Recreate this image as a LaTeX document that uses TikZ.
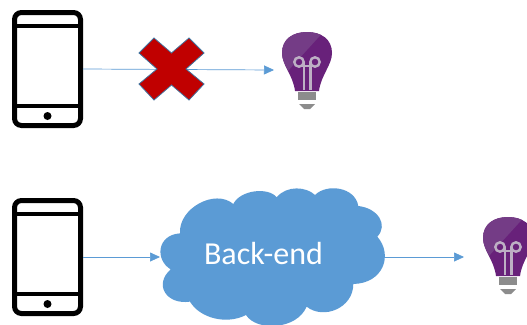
\documentclass[tikz,border=0pt]{standalone}
\usepackage{fontspec}
\setmainfont{Carlito}
\usetikzlibrary{arrows.meta}
\definecolor{lineblue}{HTML}{5B9BD5}
\definecolor{crossred}{HTML}{C00000}
\definecolor{crossedge}{HTML}{41719C}
\definecolor{bulbdark}{HTML}{68217A}
\definecolor{bulblight}{HTML}{743C86}
\definecolor{filament}{HTML}{BDB0C4}
\definecolor{basegrey}{HTML}{8C8C8C}
\newcommand{\bulboutline}{(12,38) .. controls (14,22) and (25,12) .. (25,0)
      .. controls (25,-14) and (14,-21) .. (0,-21)
      .. controls (-14,-21) and (-25,-14) .. (-25,0)
      .. controls (-25,12) and (-14,22) .. (-12,38) -- cycle}
\tikzset{
  x=1pt,y=-1pt,
  phonebody/.style={draw=black,line width=5pt,rounded corners=7pt,minimum width=66pt,minimum height=113pt,inner sep=0pt,fill=white},
  phoneline/.style={draw=black,line width=4pt},
  flow/.style={draw=lineblue,line width=0.7pt,-{Triangle[length=10pt,width=9pt,fill=lineblue]}},
  pics/phoneicon/.style={code={
    \draw[phoneline] (-33,-43.5) -- (33,-43.5);
    \draw[phoneline] (-33,36.5) -- (33,36.5);
    \fill[black] (0,47) circle (4);
  }},
  pics/bulbicon/.style={code={
    \fill[bulbdark] \bulboutline;
    \begin{scope}
      \clip \bulboutline;
      \fill[bulblight] (-30,-25) -- (20,-25) -- (-30,30) -- cycle;
    \end{scope}
    \draw[filament,line width=2.4pt] (-3.3,37) -- (-3.3,9);
    \draw[filament,line width=2.4pt] (3.3,37) -- (3.3,9);
    \draw[filament,line width=2.4pt] (-8,9) circle (4.7);
    \draw[filament,line width=2.4pt] (8,9) circle (4.7);
    \draw[filament,line width=2.4pt] (-5,13) -- (5,13);
    \fill[basegrey] (-9,39) rectangle (9,47);
    \fill[basegrey] (-8,51) -- (8,51) -- (3,56) -- (-3,56) -- cycle;
  }}
}
\begin{document}
\begin{tikzpicture}
\useasboundingbox (0,0) rectangle (527,324);
\clip (0,0) rectangle (527,324);
\fill[white] (0,0) rectangle (527,324);

% top row
\node[phonebody] (phoneA) at (47.5,69) {};
\pic at (47.5,69) {phoneicon};
\coordinate (bulbAin) at (274,70);
\draw[flow] (phoneA.east) -- (bulbAin);
\path[draw=crossedge,line width=0.8pt,fill=crossred]
  (154,38) -- (171.5,53) -- (189,38) -- (204,53) -- (186,69) -- (204,84) -- (189,100)
  -- (171.5,85) -- (154,100) -- (139,84) -- (157,69) -- (139,53) -- cycle;
\pic at (307,53) {bulbicon};

% bottom row
\node[phonebody] (phoneB) at (47.5,257) {};
\pic at (47.5,257) {phoneicon};
\pic at (508,238) {bulbicon};
\coordinate (cloudW) at (160,257);
\coordinate (cloudE) at (384,257);
\coordinate (bulbBin) at (464,257);
\draw[flow] (phoneB.east) -- (cloudW);
\draw[flow] (cloudE) -- (bulbBin);
\begin{scope}[shift={(140,180)},x=0.3333pt,y=-0.3333pt]
\fill[lineblue]
  (120,160) .. controls (115,85) and (225,25) .. (280,72)
  .. controls (300,30) and (385,20) .. (410,52)
  .. controls (440,15) and (500,20) .. (525,45)
  .. controls (560,10) and (645,20) .. (655,78)
  .. controls (715,85) and (745,135) .. (712,170)
  .. controls (760,225) and (730,310) .. (640,312)
  .. controls (640,385) and (550,420) .. (500,380)
  .. controls (470,450) and (350,455) .. (318,405)
  .. controls (260,435) and (180,415) .. (150,365)
  .. controls (80,375) and (40,315) .. (92,268)
  .. controls (45,240) and (50,165) .. (120,160) -- cycle;
\end{scope}
\node[text=white,font=\fontsize{32}{36}\selectfont,inner sep=0pt] (backend) at (263.5,254) {Back-end};
\end{tikzpicture}
\end{document}
